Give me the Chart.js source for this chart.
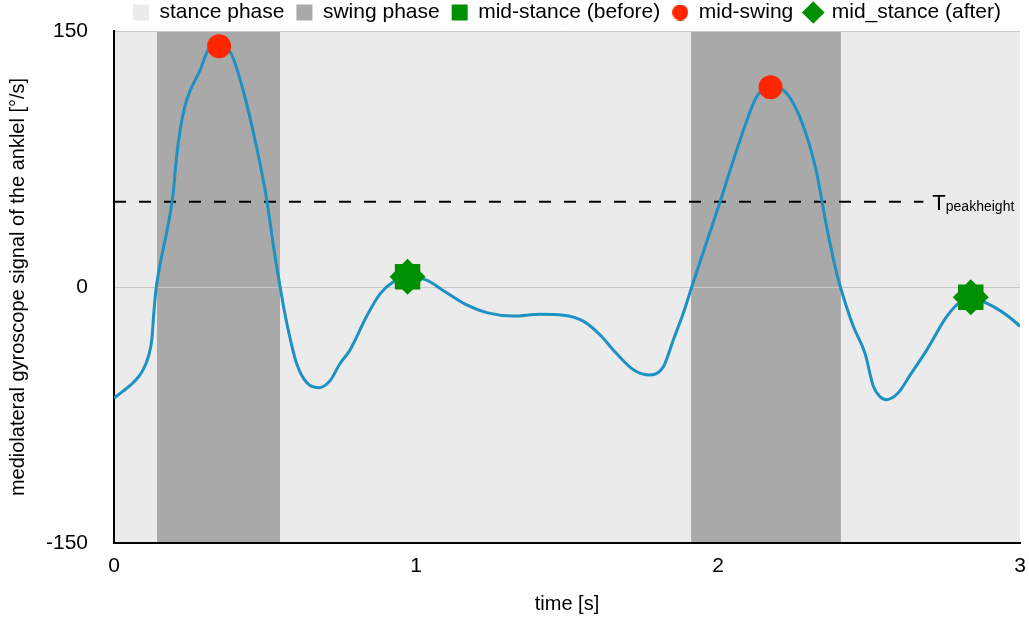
<!DOCTYPE html>
<html>
<head>
<meta charset="utf-8">
<title>mediolateral gyroscope signal</title>
<script src="https://cdn.jsdelivr.net/npm/chart.js@4.4.1/dist/chart.umd.min.js"></script>
<style>
	html, body { margin: 0; padding: 0; background: #fff; }
	#gyroChart { display: block; }
</style>
</head>
<body>
<canvas id="gyroChart" width="1029" height="617"></canvas>
<script>
// signal (time [s] / angular rate [deg/s])
var signalTime = [0.000, 0.030, 0.064, 0.095, 0.115, 0.125, 0.132, 0.138, 0.148, 0.165, 0.180, 0.196, 0.207, 0.219, 0.235, 0.252, 0.285, 0.312, 0.348, 0.370, 0.390, 0.428, 0.472, 0.506, 0.528, 0.550, 0.572, 0.605, 0.638, 0.677, 0.715, 0.748, 0.781, 0.837, 0.881, 0.925, 0.972, 1.035, 1.090, 1.168, 1.234, 1.322, 1.410, 1.488, 1.554, 1.609, 1.664, 1.720, 1.770, 1.819, 1.852, 1.885, 1.913, 1.960, 2.007, 2.073, 2.128, 2.174, 2.227, 2.283, 2.327, 2.360, 2.393, 2.415, 2.448, 2.487, 2.514, 2.535, 2.558, 2.597, 2.636, 2.691, 2.757, 2.800, 2.837, 2.870, 2.912, 2.960, 3.000];
var signalValue = [-65, -61, -56, -49, -40, -31, -15, -3, 9, 24, 37, 55, 76, 92, 106, 115, 127, 139, 142, 140, 136, 115, 82, 51, 24, 0, -21, -45, -56, -59, -55, -45, -37, -17, -4, 3, 6, 4, -2, -10.5, -15, -17, -16, -16.5, -20, -28, -39, -48.5, -51.5, -46.7, -31, -15.4, 0, 25, 50, 86, 111.5, 117, 113.5, 94, 66.6, 35, 8, -5.7, -23, -39, -58, -64, -66, -62, -51.6, -37, -17.4, -9, -6, -8, -11.5, -17, -23];

// gait events
var midSwingTime = [0.348, 2.174];
var midSwingValue = [141, 117];
var midStanceTime = [0.972, 2.837];
var midStanceValue = [6, -6];

// swing phases [start, end]
var swingStart = [0.142, 1.911];
var swingEnd = [0.550, 2.407];

var peakThreshold = 50;
var thresholdEnd = 2.68;

var xTicks = [0, 1, 2, 3];
var yTicks = [-150, 0, 150];

var toPoints = function(xs, ys){
	var out = [];
	for (var i = 0; i < xs.length; i++) out.push({x: xs[i], y: ys[i]});
	return out;
};

var swingPoints = [];
for (var i = 0; i < swingStart.length; i++) {
	if (i > 0) swingPoints.push({x: (swingEnd[i - 1] + swingStart[i]) / 2, y: null});
	swingPoints.push({x: swingStart[i], y: yTicks[2]});
	swingPoints.push({x: swingEnd[i], y: yTicks[2]});
}

var FONT = '"Liberation Sans", Arial, Helvetica, sans-serif';
Chart.defaults.font.family = FONT;
Chart.defaults.color = '#000';

// small red dot used only as the legend icon of mid-swing
var dotIcon = document.createElement('canvas');
dotIcon.width = 16; dotIcon.height = 16;
(function(){
	var c = dotIcon.getContext('2d');
	c.fillStyle = '#ff2600';
	c.beginPath(); c.arc(8, 8, 8, 0, Math.PI * 2); c.fill();
})();

var legendRank = {6: 0, 5: 1, 1: 2, 2: 3, 0: 4};

// T_peakheight label at the end of the dashed line
var thresholdLabel = {
	id: 'thresholdLabel',
	afterDatasetsDraw: function(chart){
		var ctx = chart.ctx, xs = chart.scales.x, ys = chart.scales.y;
		var px = xs.getPixelForValue(thresholdEnd) + 9,
			py = ys.getPixelForValue(peakThreshold);
		ctx.save();
		ctx.fillStyle = '#000';
		ctx.textAlign = 'left';
		ctx.textBaseline = 'alphabetic';
		ctx.font = '22px ' + FONT;
		ctx.fillText('T', px, py + 8);
		var w = ctx.measureText('T').width;
		ctx.font = '14px ' + FONT;
		ctx.fillText('peakheight', px + w, py + 9);
		ctx.restore();
	}
};

var ctx = document.getElementById('gyroChart').getContext('2d');
var gyroChart = new Chart(ctx, {
	type: 'line',
	data: {
		datasets: [{
			label: 'mid_stance (after)',
			data: toPoints(midStanceTime, midStanceValue),
			showLine: false,
			pointStyle: 'rectRot',
			pointRadius: 18,
			pointBorderWidth: 0,
			backgroundColor: '#008f00',
			borderColor: '#008f00'
		}, {
			label: 'mid-stance (before)',
			data: toPoints(midStanceTime, midStanceValue),
			showLine: false,
			pointStyle: 'rect',
			pointRadius: 18,
			pointBorderWidth: 0,
			backgroundColor: '#008f00',
			borderColor: '#008f00'
		}, {
			label: 'mid-swing',
			data: toPoints(midSwingTime, midSwingValue),
			showLine: false,
			pointStyle: 'circle',
			pointRadius: 12,
			pointBorderWidth: 0,
			backgroundColor: '#ff2600',
			borderColor: '#ff2600'
		}, {
			label: 'signal',
			data: toPoints(signalTime, signalValue),
			borderColor: '#1d91c3',
			borderWidth: 3,
			pointRadius: 0,
			cubicInterpolationMode: 'monotone',
			fill: false
		}, {
			label: 'threshold',
			data: [{x: 0, y: peakThreshold}, {x: thresholdEnd, y: peakThreshold}],
			borderColor: '#000',
			borderWidth: 2,
			borderDash: [12, 13],
			pointRadius: 0,
			fill: false
		}, {
			label: 'swing phase',
			data: swingPoints,
			spanGaps: false,
			borderWidth: 0,
			pointRadius: 0,
			pointBorderWidth: 0,
			pointStyle: 'rect',
			backgroundColor: '#a9a9a9',
			borderColor: '#a9a9a9',
			fill: 'start'
		}, {
			label: 'stance phase',
			data: [{x: xTicks[0], y: yTicks[2]}, {x: xTicks[3], y: yTicks[2]}],
			borderWidth: 0,
			pointRadius: 0,
			pointBorderWidth: 0,
			pointStyle: 'rect',
			backgroundColor: '#ebebeb',
			borderColor: '#ebebeb',
			fill: 'start'
		}]
	},
	options: {
		responsive: false,
		animation: false,
		events: [],
		layout: { autoPadding: false, padding: { top: -10, right: 9, bottom: 0, left: 0 } },
		plugins: {
			filler: { drawTime: 'beforeDraw' },
			tooltip: { enabled: false },
			legend: {
				position: 'top',
				fullSize: false,
				maxHeight: 41,
				labels: {
					usePointStyle: true,
					boxWidth: 16,
					boxHeight: 16,
					padding: 12,
					color: '#000',
					font: { size: 21 },
					filter: function(item){ return item.datasetIndex !== 3 && item.datasetIndex !== 4; },
					sort: function(a, b){ return legendRank[a.datasetIndex] - legendRank[b.datasetIndex]; },
					generateLabels: function(chart){
						var items = Chart.defaults.plugins.legend.labels.generateLabels(chart);
						items.forEach(function(it){
							if (it.datasetIndex === 2) it.pointStyle = dotIcon;
						});
						return items;
					}
				}
			}
		},
		scales: {
			x: {
				type: 'linear',
				min: xTicks[0],
				max: xTicks[3],
				afterFit: function(scale){
					scale.height = 74;
					scale.paddingLeft = 0;
					scale.paddingRight = 0;
				},
				// labels pushed down through the line height rather than the tick padding
				ticks: { stepSize: 1, padding: 0, color: '#000', font: { size: 21, lineHeight: '47px' } },
				grid: { display: false, drawTicks: false },
				border: { display: true, color: '#000', width: 2 },
				title: { display: true, text: 'time [s]', color: '#000', font: { size: 20 }, padding: { top: 0, bottom: 1 } }
			},
			y: {
				min: yTicks[0],
				max: yTicks[2],
				afterFit: function(scale){
					scale.width = 114;
					scale.paddingTop = 0;
					scale.paddingBottom = 0;
				},
				ticks: { stepSize: 150, padding: 26, color: '#000', font: { size: 21 } },
				grid: { color: '#c8c8c8', lineWidth: 1, drawTicks: false },
				border: { display: true, color: '#000', width: 2 },
				title: { display: true, text: 'mediolateral gyroscope signal of the anklel [°/s]', color: '#000', font: { size: 20 }, padding: { top: 6, bottom: 0 } }
			}
		}
	},
	plugins: [thresholdLabel]
});
</script>
</body>
</html>
